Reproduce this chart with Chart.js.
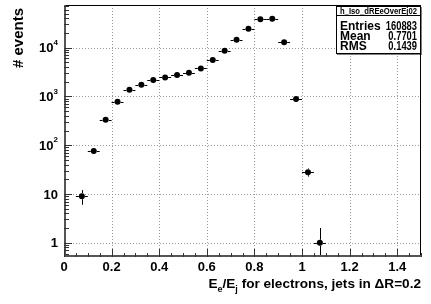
<!DOCTYPE html>
<html>
<head>
<meta charset="utf-8">
<script src="https://cdn.jsdelivr.net/npm/chart.js@4/dist/chart.umd.min.js"></script>
<style>
	html, body { margin: 0; padding: 0; background: #fff; }
	#wrap { width: 431px; height: 304px; position: relative; }
</style>
</head>
<body>
<div id="wrap"><canvas id="hist-chart"></canvas></div>
<script>
// Bin centres (bin width 0.05) and counts
var binCenters = [0.075, 0.125, 0.175, 0.225, 0.275, 0.325, 0.375, 0.425, 0.475, 0.525, 0.575,
	0.625, 0.675, 0.725, 0.775, 0.825, 0.875, 0.925, 0.975, 1.025, 1.075];
var counts = [9, 76, 334, 780, 1375, 1740, 2175, 2460, 2750, 3070, 3760,
	5590, 8670, 14600, 24500, 38100, 39400, 12850, 887, 28, 1];
var binHalfWidth = 0.025;

var xTicks = [0, 0.2, 0.4, 0.6, 0.8, 1, 1.2, 1.4];
var xTickLabels = ['0', '0.2', '0.4', '0.6', '0.8', '1', '1.2', '1.4'];
var yTicks = [1, 10, 100, 1000, 10000];
var yTickBase = ['1', '10', '10', '10', '10'];
var yTickExp = ['', '', '2', '3', '4'];

var statsTitle = 'h_Iso_dREeOverEj02';
var statsNames = ['Entries', 'Mean', 'RMS'];
var statsValues = ['160883', '0.7701', '0.1439'];

var points = binCenters.map(function(x, i) { return { x: x, y: counts[i] }; });

var FONT = '"Liberation Sans", Arial, sans-serif';

// draws text squeezed horizontally so it fits a given width
function fitText(c, txt, x, y, width, align) {
	var w = c.measureText(txt).width;
	var sx = Math.min(1, width / w);
	c.save();
	c.translate(x, y);
	c.scale(sx, 1);
	c.textAlign = align;
	c.fillText(txt, 0, 0);
	c.restore();
}

var rootPlugin = {
	id: 'rootStyle',
	beforeDatasetsDraw: function(chart) {
		var c = chart.ctx, a = chart.chartArea;
		var xs = chart.scales.x, ys = chart.scales.y;
		c.save();
		// dotted grid
		c.strokeStyle = '#999';
		c.lineWidth = 1;
		c.setLineDash([1, 2]);
		xTicks.forEach(function(v) {
			if (v === 0) return;
			var px = Math.round(xs.getPixelForValue(v)) + 0.5;
			c.beginPath(); c.moveTo(px, a.top); c.lineTo(px, a.bottom); c.stroke();
		});
		yTicks.forEach(function(v) {
			var py = Math.round(ys.getPixelForValue(v)) + 0.5;
			c.beginPath(); c.moveTo(a.left, py); c.lineTo(a.right, py); c.stroke();
		});
		c.setLineDash([]);

		// error bars
		c.strokeStyle = '#000';
		c.lineWidth = 1;
		points.forEach(function(p) {
			var px = xs.getPixelForValue(p.x), py = ys.getPixelForValue(p.y);
			var x0 = xs.getPixelForValue(p.x - binHalfWidth), x1 = xs.getPixelForValue(p.x + binHalfWidth);
			var err = Math.sqrt(p.y);
			var yHi = ys.getPixelForValue(p.y + err);
			var yLo = p.y - err > ys.min ? ys.getPixelForValue(p.y - err) : a.bottom;
			var r = 3;
			c.beginPath();
			c.moveTo(x0, Math.round(py) + 0.5); c.lineTo(px - r, Math.round(py) + 0.5);
			c.moveTo(px + r, Math.round(py) + 0.5); c.lineTo(x1, Math.round(py) + 0.5);
			if (py - yHi > r) { c.moveTo(Math.round(px) + 0.5, py - r); c.lineTo(Math.round(px) + 0.5, yHi); }
			if (yLo - py > r) { c.moveTo(Math.round(px) + 0.5, py + r); c.lineTo(Math.round(px) + 0.5, yLo); }
			c.stroke();
		});
		c.restore();
	},
	afterDraw: function(chart) {
		var c = chart.ctx, a = chart.chartArea;
		var xs = chart.scales.x, ys = chart.scales.y;
		c.save();
		// frame
		c.strokeStyle = '#000';
		c.lineWidth = 1;
		c.strokeRect(a.left + 0.5, a.top + 0.5, a.right - a.left - 1, a.bottom - a.top - 1);
		c.strokeStyle = '#555';
		c.lineWidth = 2;
		c.beginPath();
		c.moveTo(a.left + 1, a.top); c.lineTo(a.left + 1, a.bottom - 1); c.lineTo(a.right, a.bottom - 1);
		c.stroke();

		// x ticks
		c.lineWidth = 1;
		c.strokeStyle = '#333';
		for (var k = 0; k <= 30; k++) {
			var v = k * 0.05;
			var px = Math.round(xs.getPixelForValue(v)) + 0.5;
			var len = (k % 4 === 0) ? 8 : 4;
			c.beginPath(); c.moveTo(px, a.bottom); c.lineTo(px, a.bottom - len); c.stroke();
		}
		// y ticks (log major + minor)
		for (var d = -1; d <= 4; d++) {
			for (var m = 1; m <= 9; m++) {
				var val = m * Math.pow(10, d);
				if (val < ys.min || val > ys.max) continue;
				var py = Math.round(ys.getPixelForValue(val)) + 0.5;
				var l = (m === 1) ? 8 : 5;
				c.beginPath(); c.moveTo(a.left, py); c.lineTo(a.left + l, py); c.stroke();
			}
		}

		// tick labels
		c.fillStyle = '#000';
		c.font = 'bold 13px ' + FONT;
		c.textAlign = 'center';
		c.textBaseline = 'top';
		xTicks.forEach(function(v, i) {
			c.fillText(xTickLabels[i], xs.getPixelForValue(v), a.bottom + 4);
		});
		c.textBaseline = 'middle';
		yTicks.forEach(function(v, i) {
			var py = ys.getPixelForValue(v);
			var right = a.left - 6;
			c.textAlign = 'right';
			if (yTickExp[i]) {
				c.font = 'bold 8px ' + FONT;
				var ew = c.measureText(yTickExp[i]).width;
				c.fillText(yTickExp[i], right, py - 5);
				c.font = 'bold 13px ' + FONT;
				c.fillText(yTickBase[i], right - ew, py + 1);
			} else {
				c.font = 'bold 13px ' + FONT;
				c.fillText(yTickBase[i], right, py + 1);
			}
		});

		// y title
		c.save();
		c.translate(19, a.top + 3);
		c.rotate(-Math.PI / 2);
		c.font = 'bold 15px ' + FONT;
		c.textAlign = 'right';
		c.textBaseline = 'middle';
		c.fillText('# events', 0, 0);
		c.restore();

		// x title: E_e/E_j for electrons, jets in ΔR=0.2 (right aligned)
		var parts = [
			{ t: 'E', s: 13.6, dy: 0 }, { t: 'e', s: 9, dy: 4 },
			{ t: '/E', s: 13.6, dy: 0 }, { t: 'j', s: 9, dy: 4 },
			{ t: ' for electrons, jets in \u0394R=0.2', s: 13.6, dy: 0 }
		];
		var total = 0;
		parts.forEach(function(p) { c.font = 'bold ' + p.s + 'px ' + FONT; p.w = c.measureText(p.t).width; total += p.w; });
		var x = a.right - total;
		c.textAlign = 'left';
		c.textBaseline = 'alphabetic';
		parts.forEach(function(p) {
			c.font = 'bold ' + p.s + 'px ' + FONT;
			c.fillText(p.t, x, 288 + p.dy);
			x += p.w;
		});

		// stats box
		var bx0 = 336, bx1 = 420, by0 = 6, byT = 15, by1 = 53;
		c.fillStyle = '#fff';
		c.fillRect(bx0, by0, bx1 - bx0, by1 - by0);
		c.fillStyle = '#000';
		c.fillRect(bx0 + 1, by1, bx1 - bx0, 1.5);
		c.fillRect(bx1, by0 + 1, 1.5, by1 - by0 + 1);
		c.strokeStyle = '#000';
		c.lineWidth = 1;
		c.strokeRect(bx0 + 0.5, by0 + 0.5, bx1 - bx0, by1 - by0);
		c.beginPath(); c.moveTo(bx0, byT + 0.5); c.lineTo(bx1, byT + 0.5); c.stroke();
		c.fillStyle = '#000';
		c.font = 'bold 9px ' + FONT;
		c.textBaseline = 'middle';
		fitText(c, statsTitle, (bx0 + bx1) / 2 + 0.5, (by0 + byT) / 2 + 1, 77, 'center');
		c.font = 'bold 12px ' + FONT;
		statsNames.forEach(function(n, i) {
			var ty = 26.5 + i * 10.2;
			c.textAlign = 'left';
			c.fillText(n, bx0 + 4, ty);
			var vw = c.measureText(statsValues[i]).width * 0.78;
			fitText(c, statsValues[i], bx1 - 3, ty, vw, 'right');
		});
		c.restore();
	}
};

var chart = new Chart(document.getElementById('hist-chart'), {
	type: 'scatter',
	data: {
		datasets: [{
			label: 'h_Iso_dREeOverEj02',
			data: points,
			pointRadius: 3,
			pointHoverRadius: 3,
			pointBackgroundColor: '#000',
			pointBorderColor: '#000',
			pointBorderWidth: 0,
			showLine: false
		}]
	},
	options: {
		responsive: true,
		maintainAspectRatio: false,
		animation: false,
		events: [],
		layout: { padding: { left: 64, top: 5, right: 10, bottom: 47 } },
		plugins: { legend: { display: false }, tooltip: { enabled: false } },
		scales: {
			x: { type: 'linear', min: 0, max: 1.5, display: false },
			y: { type: 'logarithmic', min: 0.51, max: 75000, display: false }
		}
	},
	plugins: [rootPlugin]
});
</script>
</body>
</html>
